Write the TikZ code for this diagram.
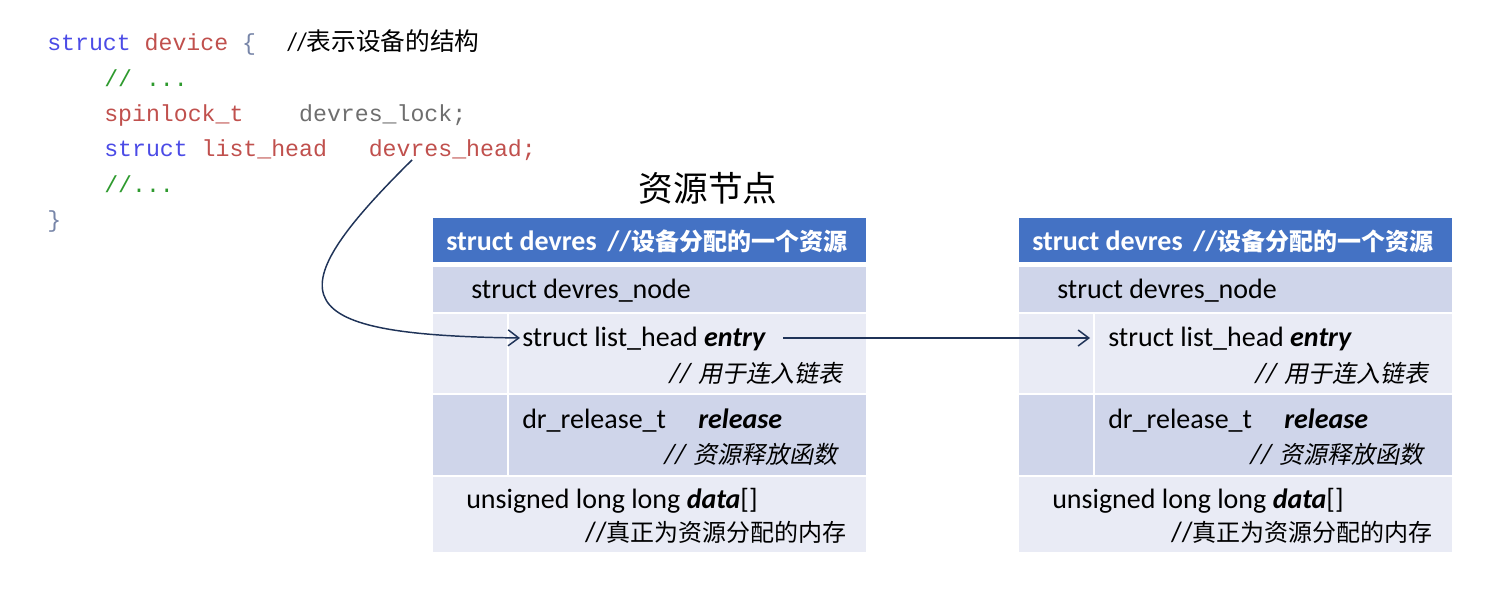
\documentclass[tikz,border=0pt]{standalone}
\usepackage{fontspec}
\setmainfont{Carlito}
\setmonofont{Liberation Mono}
\newfontfamily\cjk{Noto Sans CJK SC}
\newfontfamily\cjkit{Noto Sans CJK SC}[FakeSlant=0.2]
\usetikzlibrary{arrows.meta}
\definecolor{hdr}{HTML}{4472C4}
\definecolor{rowd}{HTML}{CFD5EA}
\definecolor{rowl}{HTML}{E9EBF5}
\definecolor{arr}{HTML}{1F3358}
\definecolor{kw}{HTML}{4B4BE6}
\definecolor{idr}{HTML}{C0504D}
\definecolor{gry}{HTML}{6E6E6E}
\definecolor{cmt}{HTML}{2E9A2E}
\definecolor{brc}{HTML}{7785A8}
\newcommand\zhs[1]{{\fontsize{18}{20}\selectfont\cjk #1}}
\newcommand\zhi[1]{{\fontsize{18}{20}\selectfont\cjkit #1}}
\tikzset{
  lat/.style={anchor=base west, inner sep=0pt, font=\fontsize{21}{24}\selectfont},
  latr/.style={anchor=base east, inner sep=0pt, font=\fontsize{21}{24}\selectfont},
  code/.style={anchor=base west, inner sep=0pt, font=\ttfamily\fontsize{17.4}{20}\selectfont},
  conn/.style={draw=arr, line width=1.1pt, -{Straight Barb[length=8pt,width=12pt,line width=1.1pt]}},
}
\begin{document}
\begin{tikzpicture}[x=0.75pt,y=-0.75pt]
\useasboundingbox (0,0) rectangle (1506,599);
% code
\node[code] (c1) at (47,51) {\textcolor{kw}{struct} \textcolor{idr}{device} \textcolor{brc}{\{}};
\node[anchor=base west, inner sep=0pt] (c1c) at (287,51) {\fontsize{19}{22}\selectfont //{\fontsize{18.5}{22}\selectfont\cjk 表示设备的结构}};
\node[code] (c2) at (104,87) {\textcolor{cmt}{// ...}};
\node[code] (c3) at (104,122) {\textcolor{idr}{spinlock\_t}\ \ \ \ \textcolor{gry}{devres\_lock;}};
\node[code] (c4) at (104,157) {\textcolor{kw}{struct} \textcolor{idr}{list\_head}\ \ \ \textcolor{idr}{devres\_head;}};
\node[code] (c5) at (104,193) {\textcolor{cmt}{//...}};
\node[code] (c6) at (47,227) {\textcolor{brc}{\}}};
% title
\node[inner sep=0pt] (title) at (708,188) {\fontsize{26}{30}\selectfont\cjk 资源节点};
% boxes
\foreach \dx/\n in {0/a,586/b}{
  \begin{scope}[xshift=\dx*0.75pt]
  \fill[hdr] (433,218) rectangle (866,262);
  \fill[rowd] (433,267) rectangle (866,312);
  \fill[rowl] (433,314) rectangle (866,393);
  \fill[rowd] (433,395) rectangle (866,475);
  \fill[rowl] (433,477) rectangle (866,552);
  \draw[white, line width=1.8pt] (508,314) -- (508,475);
  \node[lat, text=white] (h\n) at (446,250) {\bfseries struct devres\hspace{8pt}//\zhs{设备分配的一个资源}};
  \node[lat] (dn\n) at (471,298) {struct devres\_node};
  \node[lat] (e\n) at (522,346) {struct list\_head \textbf{\textit{entry}}};
  \node[latr] (ec\n) at (843,382) {\textit{//} \zhi{用于连入链表}};
  \node[lat] (r\n) at (522,428) {dr\_release\_t};
  \node[lat] (rb\n) at (698,428) {\textbf{\textit{release}}};
  \node[latr] (rc\n) at (838,463) {\textit{//} \zhi{资源释放函数}};
  \node[lat] (d\n) at (466,508) {unsigned long long \textbf{\textit{data}}[]};
  \node[latr] (dc\n) at (847,541) {//\zhs{真正为资源分配的内存}};
  \end{scope}
}
% connectors
\coordinate (hs) at (412,160);
\coordinate (atip) at (520,338);
\coordinate (aout) at (783,338);
\coordinate (btip) at (1090,338);
\draw[conn] (hs) .. controls (270,300) and (290,335) .. (atip);
\draw[conn] (aout) -- (btip);
\end{tikzpicture}
\end{document}
